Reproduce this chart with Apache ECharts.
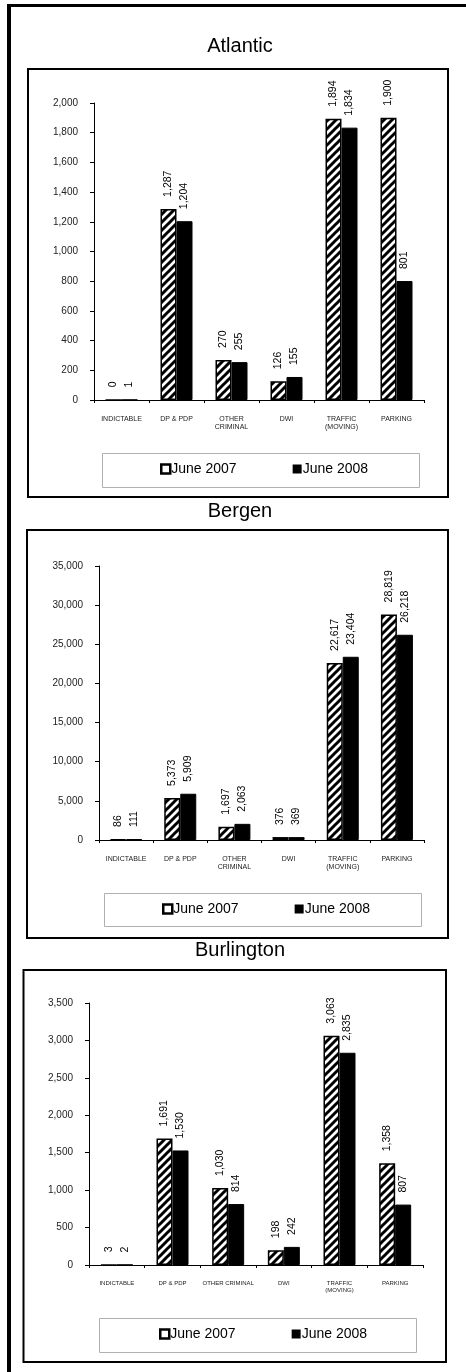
<!DOCTYPE html>
<html><head><meta charset="utf-8">
<script src="https://cdn.jsdelivr.net/npm/echarts@6/dist/echarts.min.js"></script>
<style>html,body{margin:0;padding:0;background:#fff}#c{width:466px;height:1372px}</style>
</head><body><div id="c"></div>
<script>
// ---- data ----
const countyNames = ['Atlantic', 'Bergen', 'Burlington'];
const categories = ['INDICTABLE', 'DP & PDP', 'OTHER\nCRIMINAL', 'DWI', 'TRAFFIC\n(MOVING)', 'PARKING'];
const categoriesBurlington = ['INDICTABLE', 'DP & PDP', 'OTHER CRIMINAL', 'DWI', 'TRAFFIC\n(MOVING)', 'PARKING'];
const seriesNames = ['June 2007', 'June 2008'];
const atlantic2007 = [0, 1287, 270, 126, 1894, 1900];
const atlantic2008 = [1, 1204, 255, 155, 1834, 801];
const bergen2007 = [86, 5373, 1697, 376, 22617, 28819];
const bergen2008 = [111, 5909, 2063, 369, 23404, 26218];
const burlington2007 = [3, 1691, 1030, 198, 3063, 1358];
const burlington2008 = [2, 1530, 814, 242, 2835, 807];
// y-axis ticks: [min, max, interval]
const atlanticTicks = [0, 2000, 200];
const bergenTicks = [0, 35000, 5000];
const burlingtonTicks = [0, 3500, 500];

// ---- layout / style ----
const FONT = 'Liberation Sans, Arial, sans-serif';
const panels = [
  {name: countyNames[0], cats: categories, v07: atlantic2007, v08: atlantic2008, ticks: atlanticTicks,
   titleY: 47, box: [28, 69, 420, 428], grid: [94, 103, 330, 297], legendBox: [102, 453, 317, 34], legendY: 470, legendX: 160, catFont: 7, catLH: 8},
  {name: countyNames[1], cats: categories, v07: bergen2007, v08: bergen2008, ticks: bergenTicks,
   titleY: 512, box: [27, 530, 421, 408], grid: [99, 566, 325, 274], legendBox: [104, 893, 317, 33], legendY: 910, legendX: 162, catFont: 7, catLH: 8},
  {name: countyNames[2], cats: categoriesBurlington, v07: burlington2007, v08: burlington2008, ticks: burlingtonTicks,
   titleY: 951, box: [23.5, 970, 422.5, 392], grid: [89, 1003, 334, 262], legendBox: [99, 1318, 317, 34], legendY: 1335, legendX: 159, catFont: 6, catLH: 7}
];

function makeHatch() {
  const s = 8;
  const c = document.createElement('canvas');
  c.width = s; c.height = s;
  const g = c.getContext('2d');
  g.fillStyle = '#fff'; g.fillRect(0, 0, s, s);
  g.strokeStyle = '#000'; g.lineWidth = 3; g.lineCap = 'square';
  g.beginPath();
  g.moveTo(-2, 2); g.lineTo(2, -2);
  g.moveTo(0, s); g.lineTo(s, 0);
  g.moveTo(s - 2, s + 2); g.lineTo(s + 2, s - 2);
  g.stroke();
  return c;
}
const hatch = {image: makeHatch(), repeat: 'repeat'};
const fmt = v => String(v).replace(/\B(?=(\d{3})+(?!\d))/g, ',');

const option = {
  animation: false,
  backgroundColor: '#fff',
  title: [], grid: [], xAxis: [], yAxis: [], series: [], legend: [],
  graphic: [
    {type: 'rect', shape: {x: 7, y: 4, width: 459, height: 3}, style: {fill: '#000'}, silent: true},
    {type: 'rect', shape: {x: 7, y: 4, width: 4, height: 1368}, style: {fill: '#000'}, silent: true}
  ]
};

panels.forEach((p, i) => {
  option.graphic.push({type: 'rect', z: -1, shape: {x: p.box[0], y: p.box[1], width: p.box[2], height: p.box[3]},
    style: {fill: 'none', stroke: '#000', lineWidth: 2}, silent: true});
  option.graphic.push({type: 'rect', z: -1, shape: {x: p.legendBox[0] + 0.5, y: p.legendBox[1] + 0.5, width: p.legendBox[2], height: p.legendBox[3]},
    style: {fill: 'none', stroke: '#b0b0b0', lineWidth: 1}, silent: true});
  option.title.push({text: p.name, left: 240, textAlign: 'center', top: p.titleY - 11, padding: 0,
    textStyle: {fontFamily: FONT, fontSize: 20, fontWeight: 'normal', color: '#000'}});
  option.grid.push({left: p.grid[0], top: p.grid[1], width: p.grid[2], height: p.grid[3], containLabel: false});
  option.xAxis.push({type: 'category', gridIndex: i, data: p.cats,
    axisLine: {show: true, lineStyle: {color: '#000', width: 1}},
    axisTick: {show: true, length: 3, lineStyle: {color: '#000'}},
    axisLabel: {interval: 0, fontFamily: FONT, fontSize: p.catFont, lineHeight: p.catLH, color: '#222', margin: 15}});
  option.yAxis.push({type: 'value', gridIndex: i, min: p.ticks[0], max: p.ticks[1], interval: p.ticks[2],
    axisLine: {show: true, lineStyle: {color: '#000', width: 1}},
    axisTick: {show: true, length: 4, lineStyle: {color: '#000'}},
    splitLine: {show: false},
    axisLabel: {fontFamily: FONT, fontSize: 10, color: '#222', margin: 16, formatter: fmt}});
  const lbl = {show: true, position: 'top', rotate: 90, align: 'left', verticalAlign: 'middle', distance: 12,
    fontFamily: FONT, fontSize: 10.5, color: '#000', formatter: q => fmt(q.value)};
  option.series.push({type: 'bar', name: seriesNames[0], xAxisIndex: i, yAxisIndex: i, data: p.v07,
    barWidth: 16, barGap: '0%', itemStyle: {color: hatch, borderColor: '#000', borderWidth: 1.5}, label: lbl});
  option.series.push({type: 'bar', name: seriesNames[1], xAxisIndex: i, yAxisIndex: i, data: p.v08,
    barWidth: 16, barGap: '0%', itemStyle: {color: '#000', borderColor: '#000', borderWidth: 1}, label: lbl});
  option.legend.push({left: p.legendX, top: p.legendY - 8, padding: 0, itemWidth: 9, itemHeight: 9, itemGap: 56,
    selectedMode: false,
    data: [
      {name: seriesNames[0], icon: 'rect', itemStyle: {color: '#fff', borderColor: '#000', borderWidth: 2.5}},
      {name: seriesNames[1], icon: 'rect', itemStyle: {color: '#000', borderColor: '#000', borderWidth: 0}}
    ],
    textStyle: {fontFamily: FONT, fontSize: 14, color: '#000', padding: [0, 0, 0, -4]}});
});

const chart = echarts.init(document.getElementById('c'), null, {renderer: 'canvas', width: 466, height: 1372});
chart.setOption(option);
</script>
</body></html>
